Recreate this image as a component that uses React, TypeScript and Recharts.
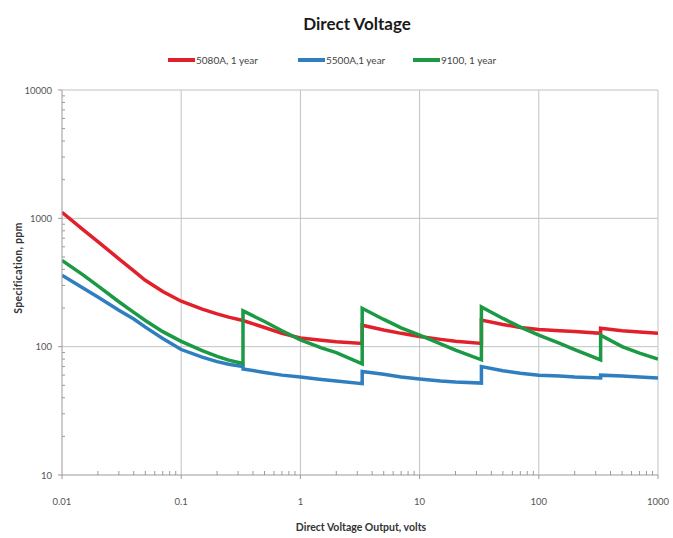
import { LineChart, Line, XAxis, YAxis, ReferenceLine } from "recharts";

// output voltage (V); each range change is listed twice so the step is drawn vertically
const voltages = [
  0.01, 0.015, 0.02, 0.03, 0.04, 0.05, 0.07, 0.1, 0.15, 0.2, 0.25, 0.33,
  0.33, 0.5, 0.7, 1, 1.5, 2, 3.3,
  3.3, 5, 7, 10, 15, 20, 33,
  33, 50, 70, 100, 150, 200, 330,
  330, 500, 700, 1000,
];
const spec5080A = [
  1114, 817, 658, 484, 389, 329, 269, 226, 196, 180, 170, 160,
  160, 141, 127, 117, 112, 109, 106,
  147, 135, 127, 120, 114, 110, 106,
  161, 149, 141, 136, 133, 131, 127,
  139, 133, 130, 127,
];
const spec5500A = [
  360, 287, 244, 192, 164, 142, 116, 95, 83, 76.5, 73, 70,
  67, 63, 60, 58, 55.5, 54, 51.5,
  64, 61, 58, 56, 54, 53, 52,
  70, 65, 62, 60, 59, 58, 57,
  60, 59, 58, 57,
];
const spec9100 = [
  470, 363, 298, 224, 185, 160, 131, 110, 93, 84, 78.5, 74,
  190, 157, 133, 113, 98, 90, 73.5,
  199, 163, 140, 123, 105, 94, 79,
  204, 166, 142, 123, 106, 95, 79,
  123, 100, 89, 80,
];

const seriesNames = ["5080A, 1 year", "5500A,1 year", "9100, 1 year"];
const seriesColors = ["#e2202c", "#2f7fc0", "#1c9944"];

const xTickLabels = ["0.01", "0.1", "1", "10", "100", "1000"];
const yTickLabels = ["10", "100", "1000", "10000"];
const majorX = xTickLabels.map(Number);
const majorY = yTickLabels.map(Number);

function withMinor(major: number[]) {
  const out = [...major];
  for (let i = 0; i < major.length - 1; i++) {
    for (let k = 2; k <= 9; k++) out.push(+(major[i] * k).toPrecision(6));
  }
  return out.sort((a, b) => a - b);
}
const xTicks = withMinor(majorX);
const yTicks = withMinor(majorY);

const data = voltages.map((v, i) => ({
  v,
  a: spec5080A[i],
  b: spec5500A[i],
  c: spec9100[i],
}));

const tickFont = { fontFamily: "Lato, sans-serif", fontSize: 9.5, fill: "#555" };
const gridColor = "#c2c2c2";

function XTick({ x, y, payload }: any) {
  const idx = majorX.indexOf(payload.value);
  return (
    <g>
      <line x1={x} x2={x} y1={y} y2={idx >= 0 ? y + 4 : y - 4} stroke="#9a9a9a" />
      {idx >= 0 && (
        <text x={x} y={y + 30} textAnchor="middle" {...tickFont}>
          {xTickLabels[idx]}
        </text>
      )}
    </g>
  );
}

function YTick({ x, y, payload }: any) {
  const idx = majorY.indexOf(payload.value);
  return (
    <g>
      <line x1={x} x2={idx >= 0 ? x - 4 : x + 3} y1={y} y2={y} stroke="#9a9a9a" />
      {idx >= 0 && (
        <text x={x - 10} y={y + 3.5} textAnchor="end" {...tickFont}>
          {yTickLabels[idx]}
        </text>
      )}
    </g>
  );
}

export default function App() {
  return (
    <div style={{ position: "absolute", left: 0, top: 0, width: 673, height: 538, background: "#fff" }}>
      <div
        style={{
          position: "absolute", left: 0, width: 714, top: 13, textAlign: "center",
          fontFamily: "Lato, sans-serif", fontWeight: 700, fontSize: 17, color: "#1a1a1a",
        }}
      >
        Direct Voltage
      </div>
      <div style={{ position: "absolute", top: 54, left: 168, height: 12, fontFamily: "Lato, sans-serif", fontSize: 10, color: "#444" }}>
        {seriesNames.map((n, i) => (
          <span
            key={n}
            style={{ position: "absolute", left: [0, 130, 245][i], top: 0, whiteSpace: "nowrap", display: "flex", alignItems: "center" }}
          >
            <span style={{ display: "inline-block", width: 27, height: 4, background: seriesColors[i], marginRight: 1 }} />
            {n}
          </span>
        ))}
      </div>
      <LineChart width={673} height={538} data={data} margin={{ top: 90, right: 15, bottom: 33, left: 10 }}>
        <XAxis
          dataKey="v"
          type="number"
          scale="log"
          domain={[0.01, 1000]}
          ticks={xTicks}
          interval={0}
          allowDataOverflow
          height={30}
          tickSize={0}
          tickMargin={0}
          tick={<XTick />}
          axisLine={{ stroke: "#9a9a9a" }}
        />
        <YAxis
          type="number"
          scale="log"
          domain={[10, 10000]}
          ticks={yTicks}
          interval={0}
          allowDataOverflow
          width={52}
          tickSize={0}
          tickMargin={0}
          tick={<YTick />}
          axisLine={{ stroke: "#9a9a9a" }}
        />
        {majorX.slice(1).map((t) => (
          <ReferenceLine key={"x" + t} x={t} stroke={gridColor} ifOverflow="extendDomain" />
        ))}
        {majorY.slice(1).map((t) => (
          <ReferenceLine key={"y" + t} y={t} stroke={gridColor} ifOverflow="extendDomain" />
        ))}
        <Line type="linear" dataKey="a" stroke={seriesColors[0]} strokeWidth={3.5} dot={false} isAnimationActive={false} />
        <Line type="linear" dataKey="b" stroke={seriesColors[1]} strokeWidth={3.5} dot={false} isAnimationActive={false} />
        <Line type="linear" dataKey="c" stroke={seriesColors[2]} strokeWidth={3.5} dot={false} isAnimationActive={false} />
      </LineChart>
      <div
        style={{
          position: "absolute", top: 262, left: 18, transform: "translate(-50%, 0) rotate(-90deg)",
          whiteSpace: "nowrap", fontFamily: "Lato, sans-serif", fontWeight: 700, fontSize: 10.5,
          letterSpacing: 0.3, color: "#333",
        }}
      >
        Specification, ppm
      </div>
      <div
        style={{
          position: "absolute", top: 521, left: 0, width: 722, textAlign: "center",
          fontFamily: "Lato, sans-serif", fontWeight: 700, fontSize: 10.5, color: "#333",
        }}
      >
        Direct Voltage Output, volts
      </div>
    </div>
  );
}
